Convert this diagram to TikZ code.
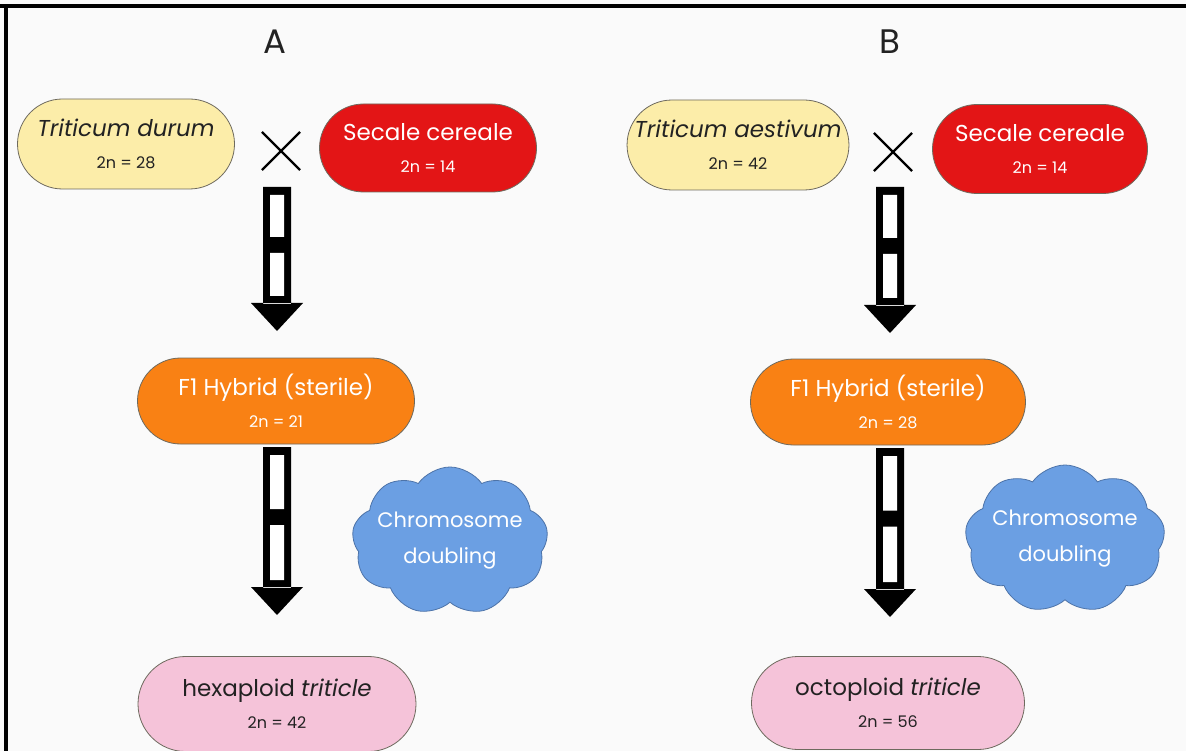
\documentclass[tikz,border=0pt]{standalone}
\usepackage{fontspec}
\setmainfont{Poppins}
\usetikzlibrary{shapes.misc,shapes.symbols,calc}
\definecolor{bgc}{HTML}{FAFAFA}
\definecolor{yel}{HTML}{FCEDA9}
\definecolor{redc}{HTML}{E31516}
\definecolor{orc}{HTML}{F98114}
\definecolor{pinkc}{HTML}{F5C3D9}
\definecolor{bluec}{HTML}{6B9FE3}
\definecolor{blueb}{HTML}{4D73A8}
\definecolor{edgec}{HTML}{6E6A5E}
\definecolor{txt}{HTML}{222222}
\newcommand\dblarrow[2]{%
  \fill let \p1=(#1),\p2=(#2) in (\x1-14pt,\y1) rectangle (\x1+14pt,\y2+27pt)
     (\x1-26pt,\y2+28pt) -- (\x1+26pt,\y2+28pt) -- (\x1,\y2) -- cycle;
  \fill[white] let \p1=(#1),\p2=(#2),\n1={(\y1+\y2+28pt)/2} in
     (\x1-7pt,\y1-8pt) rectangle (\x1+7pt,\n1+8pt)
     (\x1-7pt,\n1-8pt) rectangle (\x1+7pt,\y2+35pt);
}
\newcommand\smallfs{\fontsize{16}{20}\selectfont}
\tikzset{
  pill/.style={rounded rectangle, draw=edgec, line width=0.8pt, align=center, inner sep=0pt,
     font=\fontsize{23}{27}\selectfont},
  ttl/.style={font=\fontsize{34}{38}\selectfont, text=txt},
  crossmark/.style={cross out, draw=black, line width=2.2pt, minimum size=36pt, inner sep=0pt},
  cloudbox/.style={cloud, cloud puffs=9, cloud puff arc=110, aspect=1.3, fill=bluec, draw=blueb, line width=0.8pt,
     inner sep=0pt, minimum width=196pt, minimum height=148pt},
  cloudtext/.style={align=center, text=white, font=\fontsize{21}{36}\selectfont, inner sep=0pt}
}
\begin{document}
\begin{tikzpicture}[x=1pt,y=-1pt]
\useasboundingbox (0,0) rectangle (1186,751);
\fill[bgc] (0,0) rectangle (1186,751);
\fill[black] (0,4) rectangle (1186,8);
\fill[black] (4,4) rectangle (8,751);

% Panel A
\node[ttl] (tA) at (275,42) {A};
\node[pill, fill=yel, text=txt, minimum width=217pt, minimum height=90pt] (td) at (126,144)
  {\textit{Triticum durum}\\[5pt]{\smallfs 2n = 28}};
\node[pill, fill=redc, text=white, minimum width=217pt, minimum height=88pt] (scA) at (428,148)
  {Secale cereale\\[5pt]{\smallfs 2n = 14}};
\node[crossmark] (crossA) at (281,151) {};
\node[pill, fill=orc, text=white, minimum width=277pt, minimum height=86pt] (f1A) at (276,401)
  {F1 Hybrid (sterile)\\[5pt]{\smallfs 2n = 21}};
\node[pill, fill=pinkc, text=txt, minimum width=278pt, minimum height=95pt] (hexa) at (277,704)
  {hexaploid \textit{triticle}\\[5pt]{\smallfs 2n = 42}};
\node[cloudbox] (cloudA) at (450,541) {};
\node[cloudtext] (cloudAt) at (cloudA.center) {Chromosome\\doubling};
\coordinate (a1s) at (277,187);
\coordinate (a1e) at (277,331);
\coordinate (a2s) at (277,447);
\coordinate (a2e) at (277,615);
\dblarrow{a1s}{a1e}
\dblarrow{a2s}{a2e}

% Panel B
\node[ttl] (tB) at (890,42) {B};
\node[pill, fill=yel, text=txt, minimum width=216pt, minimum height=90pt] (ta) at (738,145)
  {\textit{Triticum aestivum}\\[5pt]{\smallfs 2n = 42}};
\node[pill, fill=redc, text=white, minimum width=215pt, minimum height=89pt] (scB) at (1040,149)
  {Secale cereale\\[5pt]{\smallfs 2n = 14}};
\node[crossmark] (crossB) at (893,152) {};
\node[pill, fill=orc, text=white, minimum width=275pt, minimum height=86pt] (f1B) at (888,402)
  {F1 Hybrid (sterile)\\[5pt]{\smallfs 2n = 28}};
\node[pill, fill=pinkc, text=txt, minimum width=273pt, minimum height=93pt] (octo) at (888,703)
  {octoploid \textit{triticle}\\[5pt]{\smallfs 2n = 56}};
\node[cloudbox, minimum width=200pt] (cloudB) at (1065,539) {};
\node[cloudtext] (cloudBt) at (cloudB.center) {Chromosome\\doubling};
\coordinate (b1s) at (890,187);
\coordinate (b1e) at (890,333);
\coordinate (b2s) at (890,448);
\coordinate (b2e) at (890,617);
\dblarrow{b1s}{b1e}
\dblarrow{b2s}{b2e}
\end{tikzpicture}
\end{document}
